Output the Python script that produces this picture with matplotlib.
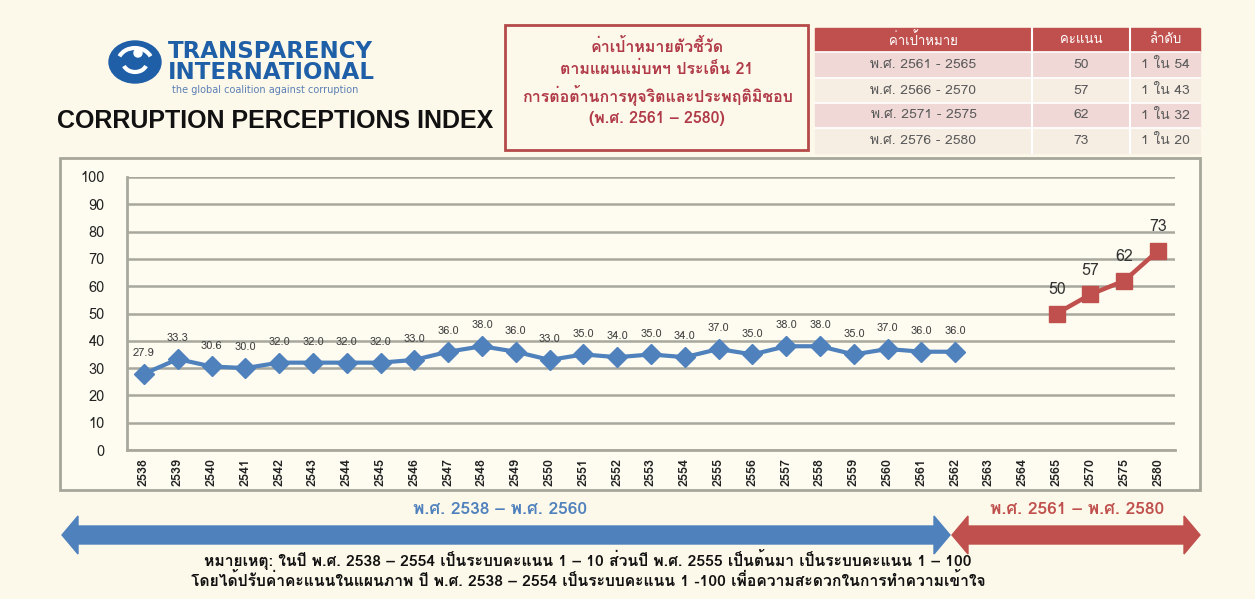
import matplotlib
matplotlib.use("Agg")
import matplotlib.pyplot as plt
from matplotlib import font_manager
from matplotlib.ft2font import FT2Font
from matplotlib.patches import Rectangle, Polygon, Ellipse, Arc, Circle

# data
years = [str(y) for y in range(2538, 2565)] + ["2565", "2570", "2575", "2580"]
cpi_scores = [27.9, 33.3, 30.6, 30.0, 32.0, 32.0, 32.0, 32.0, 33.0, 36.0, 38.0, 36.0, 33.0,
              35.0, 34.0, 35.0, 34.0, 37.0, 35.0, 38.0, 38.0, 35.0, 37.0, 36.0, 36.0]
target_years = ["2565", "2570", "2575", "2580"]
target_scores = [50, 57, 62, 73]

table_header = ["ค่าเป้าหมาย", "คะแนน", "ลำดับ"]
table_periods = ["พ.ศ. 2561 - 2565", "พ.ศ. 2566 - 2570", "พ.ศ. 2571 - 2575", "พ.ศ. 2576 - 2580"]
table_scores = ["50", "57", "62", "73"]
table_ranks = ["1 ใน 54", "1 ใน 43", "1 ใน 32", "1 ใน 20"]


def find_thai_font():
    for f in font_manager.fontManager.ttflist:
        try:
            if 0x0E01 in FT2Font(f.fname).get_charmap():
                return f.name
        except Exception:
            pass
    return None


thai = find_thai_font()
fams = ([thai] if thai else []) + ["DejaVu Sans"]
plt.rcParams["font.family"] = fams

BLUE = "#4F81BD"
RED = "#C0504D"
BG = "#FDF9EA"
GRID = "#A8A89E"

W, H = 1255, 599
fig = plt.figure(figsize=(W / 100, H / 100), dpi=100, facecolor=BG)

# background / decoration axes in pixel coords
bg = fig.add_axes([0, 0, 1, 1], zorder=0)
bg.set_xlim(0, W)
bg.set_ylim(H, 0)
bg.axis("off")

# chart frame
bg.add_patch(Rectangle((60, 158), 1140, 332, facecolor="#FEFCF1", edgecolor="#A6A69A", lw=2))

# logo
bg.add_patch(Ellipse((135, 62), 52, 42, color="#1F5FA8"))
bg.add_patch(Arc((135, 62), 34, 28, theta1=200, theta2=340, color="white", lw=3))
bg.add_patch(Arc((135, 62), 24, 20, theta1=20, theta2=160, color="white", lw=3))
bg.add_patch(Circle((138, 53), 4, color="white"))
bg.text(168, 62, "TRANSPARENCY\nINTERNATIONAL", fontsize=16.5, fontweight="bold", color="#1F5FA8",
        family="DejaVu Sans", va="center", ha="left", linespacing=0.85)
bg.text(172, 90, "the global coalition against corruption", fontsize=7, color="#5A7FB5",
        family="DejaVu Sans", va="center", ha="left")
bg.text(57, 121, "CORRUPTION PERCEPTIONS INDEX", fontsize=18, fontweight="bold", color="#111111",
        family="Liberation Sans", va="center", ha="left")

# target box
bg.add_patch(Rectangle((505, 25), 303, 125, facecolor=BG, edgecolor="#B54A4A", lw=2))
box_lines = ["ค่าเป้าหมายตัวชี้วัด", "ตามแผนแม่บทฯ ประเด็น 21",
             "การต่อต้านการทุจริตและประพฤติมิชอบ", "(พ.ศ. 2561 – 2580)"]
bg.text(657, 82, "\n".join(box_lines), fontsize=11.5, fontweight="bold", color="#B03A48",
        ha="center", va="center", linespacing=1.45)

# table
col_x = [815, 1032, 1130, 1200]
row_y = [28, 52, 78, 103, 128, 153]
bg.add_patch(Rectangle((col_x[0], row_y[0]), col_x[-1] - col_x[0], row_y[1] - row_y[0], color=RED))
for r in range(4):
    bg.add_patch(Rectangle((col_x[0], row_y[r + 1]), col_x[-1] - col_x[0], row_y[r + 2] - row_y[r + 1],
                           color="#EFD8D5" if r % 2 == 0 else "#F6EDE3"))
for c in (1, 2):
    bg.plot([col_x[c], col_x[c]], [row_y[0], row_y[-1]], color="white", lw=1.5)
for r in range(1, 5):
    bg.plot([col_x[0], col_x[-1]], [row_y[r], row_y[r]], color="white", lw=1.2)
for c in range(3):
    cx = (col_x[c] + col_x[c + 1]) / 2
    bg.text(cx, (row_y[0] + row_y[1]) / 2, table_header[c], color="white", fontsize=9.5,
            ha="center", va="center")
    col = [table_periods, table_scores, table_ranks][c]
    for r in range(4):
        bg.text(cx, (row_y[r + 1] + row_y[r + 2]) / 2, col[r], color="#5A5A5A", fontsize=10,
                ha="center", va="center")

# arrows
yc, half, head_h, head_l = 535, 9, 19, 16
bg.add_patch(Polygon([(62, yc), (62 + head_l, yc - head_h), (62 + head_l, yc - half),
                      (950 - head_l, yc - half), (950 - head_l, yc - head_h), (950, yc),
                      (950 - head_l, yc + head_h), (950 - head_l, yc + half),
                      (62 + head_l, yc + half), (62 + head_l, yc + head_h)], color=BLUE))
bg.add_patch(Polygon([(952, yc), (952 + head_l, yc - head_h), (952 + head_l, yc - half),
                      (1200 - head_l, yc - half), (1200 - head_l, yc - head_h), (1200, yc),
                      (1200 - head_l, yc + head_h), (1200 - head_l, yc + half),
                      (952 + head_l, yc + half), (952 + head_l, yc + head_h)], color=RED))
bg.text(500, 510, "พ.ศ. 2538 – พ.ศ. 2560", color=BLUE, fontsize=12.5, fontweight="bold",
        ha="center", va="center")
bg.text(1077, 510, "พ.ศ. 2561 – พ.ศ. 2580", color=RED, fontsize=12.5, fontweight="bold",
        ha="center", va="center")

# footnote
bg.text(588, 569,
        "หมายเหตุ: ในปี พ.ศ. 2538 – 2554 เป็นระบบคะแนน 1 – 10 ส่วนปี พ.ศ. 2555 เป็นต้นมา เป็นระบบคะแนน 1 – 100\n"
        "โดยได้ปรับค่าคะแนนในแผนภาพ ปี พ.ศ. 2538 – 2554 เป็นระบบคะแนน 1 -100 เพื่อความสะดวกในการทำความเข้าใจ",
        fontsize=11.3, fontweight="bold", color="#111111", ha="center", va="center",
        multialignment="center", linespacing=1.2)

# main chart
ax = fig.add_axes([127 / W, 1 - 450 / H, (1175 - 127) / W, (450 - 177) / H], zorder=1)
ax.set_facecolor("none")
x_all = list(range(len(years)))
x_hist = x_all[:len(cpi_scores)]
x_tgt = [years.index(y) for y in target_years]

ax.plot(x_hist, cpi_scores, color=BLUE, lw=3, marker="D", markersize=10, zorder=3)
ax.plot(x_tgt, target_scores, color=RED, lw=3.2, marker="s", markersize=12, zorder=3)
for xi, v in zip(x_hist, cpi_scores):
    ax.annotate(f"{v:.1f}", (xi, v), xytext=(0, 15), textcoords="offset points",
                ha="center", va="center", fontsize=8, color="#404040")
for xi, v in zip(x_tgt, target_scores):
    ax.annotate(f"{v}", (xi, v), xytext=(0, 17), textcoords="offset points",
                ha="center", va="center", fontsize=11.5, color="#333333")

ax.set_xlim(-0.5, len(years) - 0.5)
ax.set_ylim(0, 100)
ax.set_yticks(range(0, 101, 10))
ax.set_xticks(x_all)
ax.set_xticklabels(years, rotation=90, fontsize=9, fontweight="bold", color="#222222")
ax.tick_params(axis="y", labelsize=10.5, colors="#222222", length=0, pad=16)
ax.tick_params(axis="x", length=0, pad=6)
ax.grid(axis="y", color=GRID, lw=1.8)
ax.set_axisbelow(True)
for s in ("top", "right"):
    ax.spines[s].set_visible(False)
ax.spines["left"].set_color(GRID)
ax.spines["left"].set_linewidth(2)
ax.spines["bottom"].set_color(GRID)
ax.spines["bottom"].set_linewidth(2)

fig.savefig("out.png", dpi=100, facecolor=BG)
